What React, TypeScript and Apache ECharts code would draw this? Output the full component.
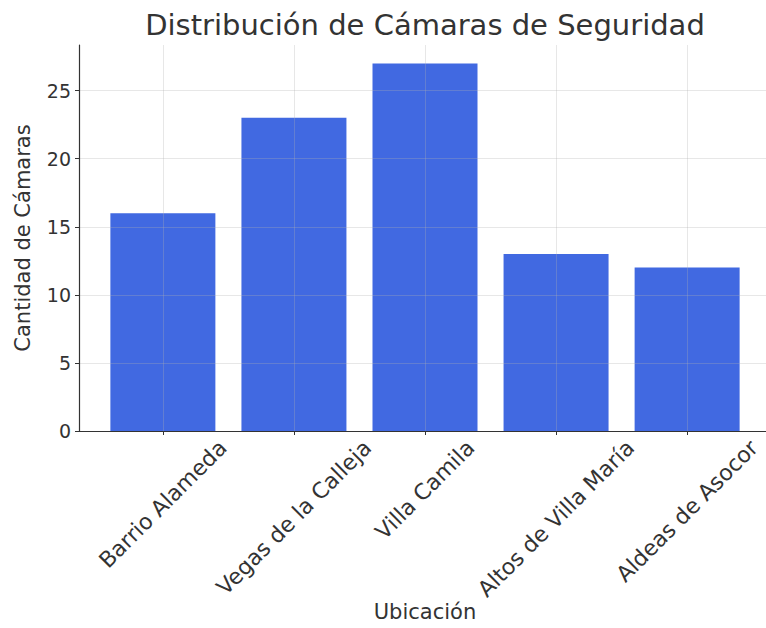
import React, { useEffect, useRef } from "react";
import * as echarts from "echarts";

const categories = ["Barrio Alameda", "Vegas de la Calleja", "Villa Camila", "Altos de Villa María", "Aldeas de Asocor"];
const values = [16, 23, 27, 13, 12];
const yTicks = [0, 5, 10, 15, 20, 25];
const xTicks = [0, 1, 2, 3, 4];

const FONT = "DejaVu Sans";
const TICK_FS = 19;
const XTICK_FS = 22;

function measure(text: string, size: number): number {
  const c = document.createElement("canvas").getContext("2d");
  if (!c) return text.length * size * 0.6;
  c.font = `${size}px "${FONT}"`;
  return c.measureText(text).width;
}

export default function App() {
  const ref = useRef<HTMLDivElement>(null);
  useEffect(() => {
    document.body.style.margin = "0";
    if (!ref.current) return;
    const chart = echarts.init(ref.current, null, { renderer: "svg" });
    const rich: Record<string, any> = {};
    categories.forEach((c, i) => {
      const L = measure(c, XTICK_FS);
      rich["c" + i] = {
        fontFamily: FONT,
        fontSize: XTICK_FS,
        color: "#333333",
        padding: [0.5 * L, 0.5 * L, 0, 0],
      };
    });
    chart.setOption({
      animation: false,
      backgroundColor: "#ffffff",
      title: {
        text: "Distribución de Cámaras de Seguridad",
        left: 420,
        top: 5,
        textAlign: "center",
        textStyle: { fontFamily: FONT, fontSize: 29, fontWeight: "normal", color: "#333333" },
      },
      grid: { left: 79, top: 45, width: 692, height: 386, containLabel: false, outerBoundsMode: "none" },
      xAxis: {
        type: "value",
        min: -0.64,
        max: 4.64,
        z: 3,
        name: "Ubicación",
        nameLocation: "middle",
        nameGap: 170,
        nameMoveOverlap: false,
        nameTextStyle: { fontFamily: FONT, fontSize: 21, color: "#333333" },
        axisLine: { show: true, onZero: false, lineStyle: { color: "#333333", width: 1.2 } },
        axisTick: { show: true, length: 4, customValues: xTicks, lineStyle: { color: "#333333" } },
        axisLabel: {
          customValues: xTicks,
          rotate: 45,
          align: "center",
          verticalAlign: "middle",
          fontFamily: FONT,
          fontSize: XTICK_FS,
          color: "#333333",
          margin: 13,
          rich,
          formatter: (v: number) => {
            const i = Math.round(v);
            return categories[i] !== undefined ? `{c${i}|${categories[i]}}` : "";
          },
        },
        splitLine: { show: true, lineStyle: { color: "rgba(176,176,176,0.3)", width: 1 } },
      },
      yAxis: {
        type: "value",
        min: 0,
        max: 28.35,
        z: 3,
        name: "Cantidad de Cámaras",
        nameLocation: "middle",
        nameGap: 46,
        nameMoveOverlap: false,
        nameTextStyle: { fontFamily: FONT, fontSize: 21, color: "#333333" },
        axisLine: { show: true, onZero: false, lineStyle: { color: "#333333", width: 1.2 } },
        axisTick: { show: true, length: 4, customValues: yTicks, lineStyle: { color: "#333333" } },
        axisLabel: { customValues: yTicks, fontFamily: FONT, fontSize: TICK_FS, color: "#333333", margin: 8 },
        splitLine: { show: true, lineStyle: { color: "rgba(176,176,176,0.3)", width: 1 } },
      },
      series: [
        {
          type: "bar",
          data: values.map((v, i) => [i, v]),
          barWidth: 105,
          itemStyle: { color: "#4169E1" },
        },
      ],
    });
    return () => chart.dispose();
  }, []);
  return <div ref={ref} style={{ width: 766, height: 628 }} />;
}
